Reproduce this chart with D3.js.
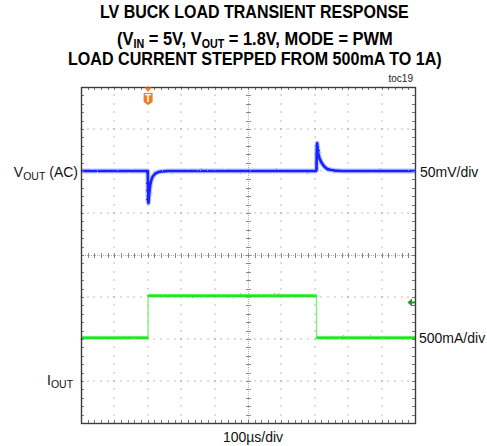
<!DOCTYPE html>
<html><head><meta charset="utf-8">
<script src="https://cdn.jsdelivr.net/npm/d3@7"></script>
<style>body{margin:0;background:#fff}svg{display:block}</style>
</head><body>
<svg id="c" width="487" height="446"></svg>
<script>
// ---------------- data ----------------
const titleLine1 = "LV BUCK LOAD TRANSIENT RESPONSE";
const titleLine2 = [["(V",""],["IN","sub"],[" = 5V, V",""],["OUT","sub"],[" = 1.8V, MODE = PWM",""]];
const titleLine3 = "LOAD CURRENT STEPPED FROM 500mA TO 1A)";
const docLabel = "toc19";
const timeLabel = "100µs/div";
const voutScaleLabel = "50mV/div";
const ioutScaleLabel = "500mA/div";

// time in µs (100 µs/div, 10 divisions)
const timeDomain = [0, 1000];
const majorTimeTicks = [0,100,200,300,400,500,600,700,800,900,1000];
// VOUT (AC) in mV
const voutTime = [0,200,201,202,204,207,211,215,219,225,232,245,262,300,
                  705,706,707,708,710,714,720,727,735,745,760,780,1000];
const voutMv   = [0,0,-36,-38,-28,-17,-10,-6.5,-4.5,-2.5,-1.2,-0.4,0,0,
                  0,26,33,29,22,15,10,6,3,1.5,0.5,0,0];
// IOUT in mA
const ioutTime = [0,201,201,705,705,1000];
const ioutMa   = [500,500,1000,1000,500,500];
const triggerTime = 201;      // µs
const ioutTriggerLevel = 920; // mA

// ---------------- layout ----------------
const svg = d3.select("#c");
const X0 = 81, X1 = 415, Y0 = 87, Y1 = 423;
const x = d3.scaleLinear().domain(timeDomain).range([X0, X1]);
const yDiv = d3.scaleLinear().domain([-4, 4]).range([Y1, Y0]);
const yV = v => yDiv(2 + v / 50);
const yI = i => yDiv(-2.97 + i / 500);

const minorT = d3.range(0, 1000.001, 20);
const minorD = d3.range(-4, 4.001, 0.2);
const font = "'Liberation Sans', Arial, sans-serif";

// noise texture filter for the scope traces (style only)
const defs = svg.append("defs");
const flt = defs.append("filter").attr("id", "noise")
  .attr("x", "-5%").attr("y", "-20%").attr("width", "110%").attr("height", "140%");
flt.append("feTurbulence").attr("type", "fractalNoise").attr("baseFrequency", "1.2 0.6")
  .attr("numOctaves", 1).attr("seed", 3).attr("result", "t");
flt.append("feDisplacementMap").attr("in", "SourceGraphic").attr("in2", "t")
  .attr("scale", 2.2).attr("xChannelSelector", "R").attr("yChannelSelector", "G");

// ---------------- grid ----------------
const grid = svg.append("g");
majorTimeTicks.slice(1, -1).filter(t => t !== 500).forEach(t => {
  grid.append("g").selectAll("rect").data(minorD).join("rect")
    .attr("x", Math.round(x(t)) - 0.5).attr("y", d => Math.round(yDiv(d)) - 0.5)
    .attr("width", 1).attr("height", 1).attr("fill", "#7a7a7a");
});
[-3,-2,-1,1,2,3].forEach(dv => {
  grid.append("g").selectAll("rect").data(minorT).join("rect")
    .attr("x", d => Math.round(x(d)) - 0.5).attr("y", Math.round(yDiv(dv)) - 0.5)
    .attr("width", 1).attr("height", 1).attr("fill", "#7a7a7a");
});
// center cross
const cx = Math.round(x(500)) + 0.5, cy = Math.round(yDiv(0)) + 0.5;
grid.append("line").attr("x1", X0).attr("x2", X1).attr("y1", cy).attr("y2", cy)
  .attr("stroke", "#b5b5b5").attr("stroke-dasharray", "1,1");
grid.append("line").attr("x1", cx).attr("x2", cx).attr("y1", Y0).attr("y2", Y1)
  .attr("stroke", "#b5b5b5").attr("stroke-dasharray", "1,1");
grid.append("g").selectAll("line").data(minorT).join("line")
  .attr("x1", d => Math.round(x(d)) + 0.5).attr("x2", d => Math.round(x(d)) + 0.5)
  .attr("y1", cy - 2.5).attr("y2", cy + 2.5).attr("stroke", "#8a8a8a");
grid.append("g").selectAll("line").data(minorD).join("line")
  .attr("y1", d => Math.round(yDiv(d)) + 0.5).attr("y2", d => Math.round(yDiv(d)) + 0.5)
  .attr("x1", cx - 2.5).attr("x2", cx + 2.5).attr("stroke", "#8a8a8a");

// ---------------- traces ----------------
const voutData = voutTime.map((t, i) => [t, voutMv[i]]);
const ioutData = ioutTime.map((t, i) => [t, ioutMa[i]]);
const lineV = d3.line().x(d => x(d[0])).y(d => yV(d[1]));
const lineI = d3.line().x(d => x(d[0])).y(d => yI(d[1]));

const gV = svg.append("g").attr("filter", "url(#noise)");
gV.append("path").attr("d", lineV(voutData)).attr("fill", "none")
  .attr("stroke", "#6a78ff").attr("stroke-width", 5).attr("stroke-opacity", 0.45)
  .attr("stroke-linejoin", "round");
gV.append("path").attr("d", lineV(voutData)).attr("fill", "none")
  .attr("stroke", "#1224ff").attr("stroke-width", 2.6).attr("stroke-linejoin", "round");

// IOUT: thin edges, thick flat segments
svg.append("path").attr("d", lineI(ioutData)).attr("fill", "none")
  .attr("stroke", "#80f080").attr("stroke-width", 1.4);
const flats = [];
for (let i = 0; i < ioutData.length - 1; i++) {
  if (ioutData[i][1] === ioutData[i + 1][1]) flats.push([ioutData[i], ioutData[i + 1]]);
}
const gI = svg.append("g").attr("filter", "url(#noise)");
gI.selectAll("path.o").data(flats).join("path").attr("class", "o")
  .attr("d", d => lineI(d)).attr("fill", "none")
  .attr("stroke", "#70ff70").attr("stroke-width", 4.2).attr("stroke-opacity", 0.65);
gI.selectAll("path.c").data(flats).join("path").attr("class", "c")
  .attr("d", d => lineI(d)).attr("fill", "none")
  .attr("stroke", "#1ee61e").attr("stroke-width", 2.4);

// ---------------- frame ----------------
const frame = svg.append("g");
frame.append("g").selectAll("line").data(minorT).join("line")
  .attr("x1", d => Math.round(x(d)) + 0.5).attr("x2", d => Math.round(x(d)) + 0.5)
  .attr("y1", Y0).attr("y2", Y0 + 3).attr("stroke", "#777");
frame.append("g").selectAll("line").data(minorT).join("line")
  .attr("x1", d => Math.round(x(d)) + 0.5).attr("x2", d => Math.round(x(d)) + 0.5)
  .attr("y1", Y1).attr("y2", Y1 - 3).attr("stroke", "#777");
frame.append("g").selectAll("line").data(minorD).join("line")
  .attr("y1", d => Math.round(yDiv(d)) + 0.5).attr("y2", d => Math.round(yDiv(d)) + 0.5)
  .attr("x1", X0).attr("x2", X0 + 3).attr("stroke", "#777");
frame.append("g").selectAll("line").data(minorD).join("line")
  .attr("y1", d => Math.round(yDiv(d)) + 0.5).attr("y2", d => Math.round(yDiv(d)) + 0.5)
  .attr("x1", X1).attr("x2", X1 - 3).attr("stroke", "#777");
frame.append("rect").attr("x", X0 + 0.5).attr("y", Y0 + 0.5)
  .attr("width", X1 - X0).attr("height", Y1 - Y0)
  .attr("fill", "none").attr("stroke", "#3c3c3c").attr("stroke-width", 1.4);

// trigger marker
const tx = x(triggerTime);
svg.append("path").attr("d", `M${tx-3.5},${Y0+0.5} L${tx+3.5},${Y0+0.5} L${tx},${Y0+5} Z`).attr("fill", "#f47b20");
svg.append("path").attr("d", `M${tx-4.5},${Y0+6} L${tx+4.5},${Y0+6} L${tx+4.5},${Y0+15} L${tx},${Y0+18} L${tx-4.5},${Y0+15} Z`)
  .attr("fill", "#f47b20");
svg.append("text").attr("x", tx).attr("y", Y0 + 15).attr("text-anchor", "middle")
  .attr("font-family", font).attr("font-weight", "bold").attr("font-size", 10)
  .attr("fill", "#fff").text("T");

// iout trigger level marker (right)
const my = yI(ioutTriggerLevel);
svg.append("path").attr("d", `M${X1-7.5},${my} L${X1-3},${my-4} L${X1-3},${my+4} Z`).attr("fill", "#1f9a1f");
svg.append("line").attr("x1", X1 - 3.5).attr("x2", X1).attr("y1", my).attr("y2", my)
  .attr("stroke", "#1f9a1f").attr("stroke-width", 2);

// ---------------- labels ----------------
const lbl = (xx, yy, anchor) => svg.append("text").attr("x", xx).attr("y", yy)
  .attr("text-anchor", anchor).attr("font-family", font).attr("font-size", 14).attr("fill", "#111");

const vl = lbl(78, yV(0) + 6, "end");
vl.append("tspan").text("V");
vl.append("tspan").attr("font-size", 10.5).attr("dy", 3).text("OUT");
vl.append("tspan").attr("dy", -3).text(" (AC)");

const il = lbl(47, yI(0) + 5, "start");
il.append("tspan").text("I");
il.append("tspan").attr("font-size", 10.5).attr("dy", 3).text("OUT");

lbl(420, yV(0) + 5.5, "start").text(voutScaleLabel);
lbl(419, yI(500) + 5, "start").text(ioutScaleLabel);
lbl(253, 442, "middle").text(timeLabel);
svg.append("text").attr("x", 413).attr("y", 82).attr("text-anchor", "end")
  .attr("font-family", font).attr("font-size", 10).attr("fill", "#222").text(docLabel);

// ---------------- title ----------------
const tfont = "'Liberation Sans Narrow', 'Arial Narrow', 'Liberation Sans', Arial, sans-serif";
function fitText(sel, cxv, width) {
  const bb = sel.node().getBBox();
  const s = width / bb.width;
  sel.attr("transform", `translate(${cxv},0) scale(${s},1) translate(${-(bb.x + bb.width / 2)},0)`);
}
const t1 = svg.append("text").attr("x", 0).attr("y", 18.3).attr("font-family", tfont)
  .attr("font-weight", "bold").attr("font-size", 18.5).attr("fill", "#000").text(titleLine1);
fitText(t1, 254.5, 309);
const t2 = svg.append("text").attr("x", 0).attr("y", 45).attr("font-family", tfont)
  .attr("font-weight", "bold").attr("font-size", 18.5).attr("fill", "#000");
titleLine2.forEach(([s, k], i) => {
  const ts = t2.append("tspan").text(s);
  if (k === "sub") ts.attr("font-size", 12).attr("dy", 3);
  else if (i > 0) ts.attr("dy", -3);
});
fitText(t2, 255, 276);
const t3 = svg.append("text").attr("x", 0).attr("y", 65).attr("font-family", tfont)
  .attr("font-weight", "bold").attr("font-size", 18.5).attr("fill", "#000").text(titleLine3);
fitText(t3, 255, 374);
</script>
</body></html>
